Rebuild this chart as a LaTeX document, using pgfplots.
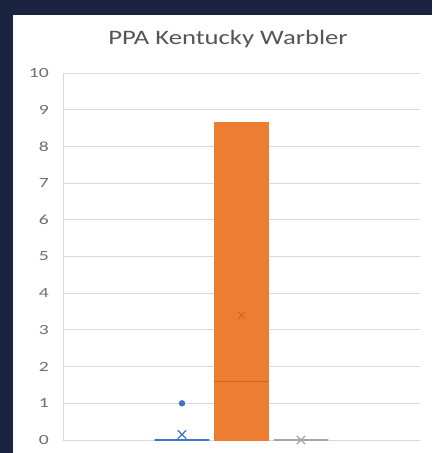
\documentclass[border=0pt]{standalone}
\usepackage{pgfplots}
\pgfplotsset{compat=1.18}
\usepgfplotslibrary{statistics}
\usepackage{fontspec}
\setmainfont{Carlito}
\definecolor{navybg}{RGB}{26,36,64}
\definecolor{exblue}{RGB}{68,114,196}
\definecolor{exorange}{RGB}{237,125,49}
\definecolor{exorangedk}{RGB}{205,100,35}
\definecolor{exgray}{RGB}{165,165,165}
\definecolor{gridc}{RGB}{217,217,217}
\definecolor{tickc}{RGB}{110,110,110}
\definecolor{titlec}{RGB}{85,85,85}
\begin{document}
\begin{tikzpicture}[x=1pt,y=1pt]
\fill[navybg] (0,0) rectangle (432,453);
\fill[white] (13,0) rectangle (432,438);
\node[font=\fontsize{20.5}{24}\selectfont, text=titlec, anchor=base, xscale=1.3, inner sep=0pt] at (228,408) {PPA Kentucky Warbler};
\begin{axis}[
  at={(63pt,13pt)}, anchor=south west,
  width=357pt, height=367pt, scale only axis,
  xmin=-3, xmax=3, ymin=0, ymax=10,
  axis x line=none,
  axis y line=left,
  y axis line style={draw=gridc, line width=0.8pt, -},
  ytick={0,1,...,10},
  major tick length=0pt,
  ymajorgrids,
  grid style={draw=gridc, line width=0.8pt},
  yticklabel style={font=\fontsize{14}{16}\selectfont, text=tickc, xscale=1.4, inner sep=0pt, xshift=-10pt},
  /pgf/number format/assume math mode=true,
  clip=false,
  boxplot/draw direction=y,
]
% Series 1 (blue)
\addplot[draw=exblue, line width=1.2pt, mark=*, mark size=2.6pt, mark options={fill=exblue, draw=exblue},
  boxplot prepared={lower whisker=0, lower quartile=0, median=0, upper quartile=0, upper whisker=0, draw position=-1, box extend=0.92}]
  coordinates {(0,1)};
\addplot[only marks, mark=x, mark size=6pt, draw=exblue, line width=1.1pt] coordinates {(-1,0.15)};
% Series 2 (orange)
\addplot[draw=exorange, fill=exorange, line width=0.8pt,
  boxplot prepared={lower whisker=0, lower quartile=0, median=1.6, upper quartile=8.65, upper whisker=8.65, draw position=0, box extend=0.92}]
  coordinates {};
\addplot[draw=exorangedk, line width=1.3pt] coordinates {(-0.46,1.6) (0.46,1.6)};
\addplot[only marks, mark=x, mark size=5pt, draw=exorangedk, line width=0.9pt] coordinates {(0,3.4)};
% Series 3 (gray)
\addplot[draw=exgray, line width=1.6pt,
  boxplot prepared={lower whisker=0, lower quartile=0, median=0, upper quartile=0, upper whisker=0, draw position=1, box extend=0.92}]
  coordinates {};
\addplot[only marks, mark=x, mark size=6pt, draw=exgray, line width=1.1pt] coordinates {(1,0.0)};
\end{axis}
\end{tikzpicture}
\end{document}
